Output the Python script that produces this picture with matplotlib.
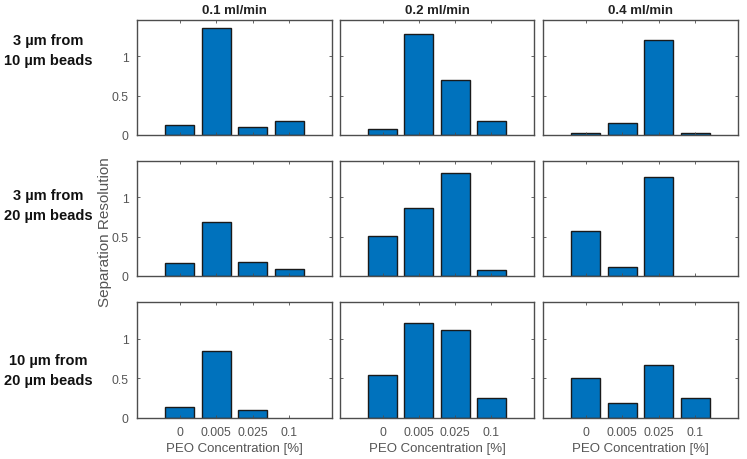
import matplotlib
matplotlib.use("Agg")
import matplotlib.pyplot as plt
import numpy as np

plt.rcParams['font.family'] = ['Liberation Sans', 'DejaVu Sans']

categories = ["0", "0.005", "0.025", "0.1"]
flow_rates = ["0.1 ml/min", "0.2 ml/min", "0.4 ml/min"]
row_labels = ["3 µm from\n10 µm beads", "3 µm from\n20 µm beads", "10 µm from\n20 µm beads"]

# values[row][col] -> 4 bars
r1_c1 = [0.127, 1.36, 0.10, 0.174]
r1_c2 = [0.072, 1.288, 0.695, 0.178]
r1_c3 = [0.02, 0.15, 1.203, 0.02]
r2_c1 = [0.165, 0.68, 0.178, 0.089]
r2_c2 = [0.508, 0.864, 1.31, 0.076]
r2_c3 = [0.576, 0.114, 1.254, 0.0]
r3_c1 = [0.143, 0.845, 0.10, 0.0]
r3_c2 = [0.546, 1.197, 1.109, 0.248]
r3_c3 = [0.504, 0.193, 0.664, 0.248]
values = [[r1_c1, r1_c2, r1_c3], [r2_c1, r2_c2, r2_c3], [r3_c1, r3_c2, r3_c3]]

W, H = 747, 460
fig = plt.figure(figsize=(W / 100, H / 100), dpi=100)

col_x = [(137, 332), (340, 534), (543, 738)]
row_y = [(21, 136), (162, 277), (303, 419)]

axcol = '#4d4d4d'
tickcol = '#555555'
x = np.arange(len(categories))
for r in range(3):
    for c in range(3):
        x0, x1 = col_x[c]
        y0, y1 = row_y[r]
        ax = fig.add_axes([x0 / W, 1 - y1 / H, (x1 - x0) / W, (y1 - y0) / H])
        vals = values[r][c]
        lws = [1.0 if v > 0 else 0.0 for v in vals]
        ax.bar(x, vals, width=0.8, color='#0072BD', edgecolor='#1a1a1a', linewidth=lws)
        ax.set_xlim(-1.18, 4.18)
        ax.set_ylim(0, 1.46)
        ax.set_xticks(x)
        ax.set_yticks([0, 0.5, 1])
        ax.tick_params(direction='in', length=2.5, width=0.6, colors=axcol, top=True, right=True,
                       labelsize=8.8, labelcolor=tickcol, pad=6)
        for s in ax.spines.values():
            s.set_color(axcol)
            s.set_linewidth(1.0)
        if c == 0:
            ax.set_yticklabels(["0", "0.5", "1"])
        else:
            ax.set_yticklabels([])
        if r == 2:
            ax.set_xticklabels(categories)
            ax.set_xlabel("PEO Concentration [%]", fontsize=9.5, color=tickcol, labelpad=3)
        else:
            ax.set_xticklabels([])
        if r == 0:
            ax.set_title(flow_rates[c], fontsize=9.5, fontweight='bold', color='#222222', pad=5)

# row labels
for r, lab in enumerate(row_labels):
    yc = [51, 206, 371][r]
    fig.text(48 / W, 1 - yc / H, lab, ha='center', va='center', fontsize=10.5,
             fontweight='bold', color='#111111', linespacing=1.55)

fig.text(105 / W, 1 - 232 / H, "Separation Resolution", rotation=90, ha='center', va='center',
         fontsize=11, color=tickcol)

fig.savefig("out.png", dpi=100)
